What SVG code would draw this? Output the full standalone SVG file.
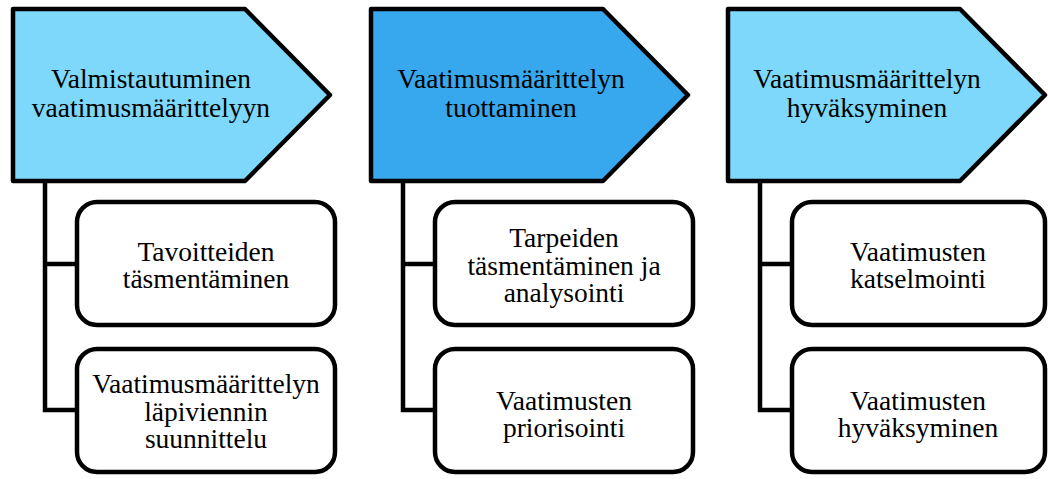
<svg xmlns="http://www.w3.org/2000/svg" width="1048" height="479" viewBox="0 0 1048 479">
<style>
.hdr{stroke:#000;stroke-width:4.5;stroke-linejoin:round}
.light{fill:#7DD8FC}
.dark{fill:#38A8EE}
.box{fill:#fff;stroke:#000;stroke-width:4.5}
.conn{fill:none;stroke:#000;stroke-width:4.5;stroke-linejoin:miter}
.t{font-size:27.5px;fill:#000;text-anchor:middle}
</style>
<rect width="1048" height="479" fill="#fff"/>
<g id="connectors">
<path class="conn" d="M45,181 V410 H77 M45,264 H77"/>
<path class="conn" d="M403,181 V410 H435 M403,264 H435"/>
<path class="conn" d="M760,181 V410 H792 M760,264 H792"/>
</g>
<g font-family="Liberation Serif, Tinos, Times New Roman, DejaVu Serif, serif">
<g id="h1">
<path class="hdr light" d="M13,9 H245 L330,95 L245,181 H13 Z"/>
<text class="t" x="151" y="88">Valmistautuminen</text>
<text class="t" x="151" y="117">vaatimusmäärittelyyn</text>
</g>
<g id="h2">
<path class="hdr dark" d="M371,9 H603 L688,95 L603,181 H371 Z"/>
<text class="t" x="511" y="88">Vaatimusmäärittelyn</text>
<text class="t" x="511" y="117">tuottaminen</text>
</g>
<g id="h3">
<path class="hdr light" d="M728,9 H960 L1045,95 L960,181 H728 Z"/>
<text class="t" x="867" y="88">Vaatimusmäärittelyn</text>
<text class="t" x="867" y="117">hyväksyminen</text>
</g>
<g id="b1a">
<rect class="box" x="77" y="202" width="258" height="123" rx="20"/>
<text class="t" x="206" y="261">Tavoitteiden</text>
<text class="t" x="206" y="288">täsmentäminen</text>
</g>
<g id="b1b">
<rect class="box" x="77" y="349" width="258" height="123" rx="20"/>
<text class="t" x="206" y="393">Vaatimusmäärittelyn</text>
<text class="t" x="206" y="421">läpiviennin</text>
<text class="t" x="206" y="448">suunnittelu</text>
</g>
<g id="b2a">
<rect class="box" x="435" y="202" width="258" height="123" rx="20"/>
<text class="t" x="564" y="247">Tarpeiden</text>
<text class="t" x="564" y="275">täsmentäminen ja</text>
<text class="t" x="564" y="302">analysointi</text>
</g>
<g id="b2b">
<rect class="box" x="435" y="349" width="258" height="123" rx="20"/>
<text class="t" x="564" y="410">Vaatimusten</text>
<text class="t" x="564" y="437">priorisointi</text>
</g>
<g id="b3a">
<rect class="box" x="792" y="202" width="253" height="123" rx="20"/>
<text class="t" x="918" y="261">Vaatimusten</text>
<text class="t" x="918" y="288">katselmointi</text>
</g>
<g id="b3b">
<rect class="box" x="792" y="349" width="253" height="123" rx="20"/>
<text class="t" x="918" y="410">Vaatimusten</text>
<text class="t" x="918" y="437">hyväksyminen</text>
</g>
</g>
</svg>
